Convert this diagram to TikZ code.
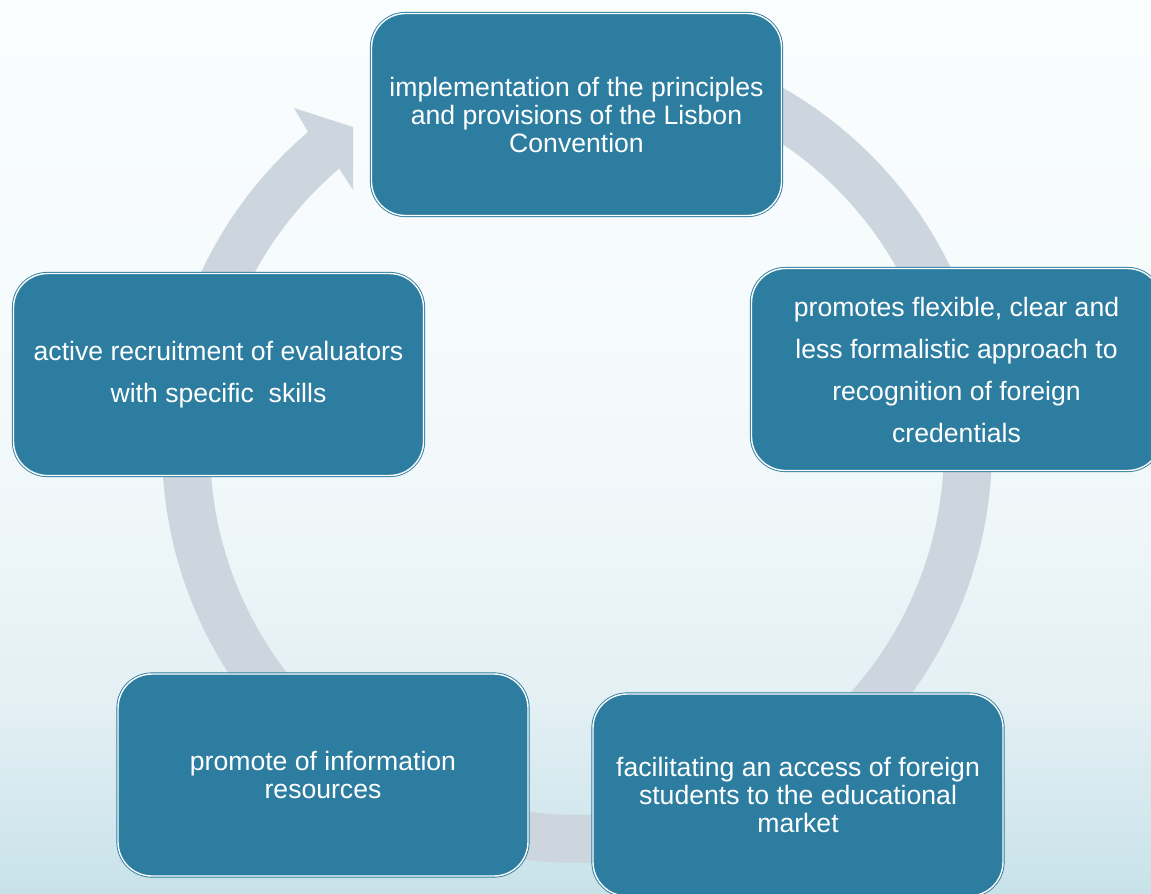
\documentclass[tikz,border=0pt]{standalone}
\usepackage{fontspec}
\setmainfont{Liberation Sans}
\definecolor{boxteal}{RGB}{45,125,160}
\definecolor{ringgrey}{RGB}{205,214,223}
\definecolor{bgtop}{RGB}{250,253,254}
\definecolor{bgmid}{RGB}{243,249,251}
\definecolor{bglow}{RGB}{228,240,244}
\definecolor{bgbot}{RGB}{200,226,234}
\pgfdeclareverticalshading{bgshade}{100bp}{color(0bp)=(bgbot); color(25bp)=(bgbot); color(36bp)=(bglow); color(50bp)=(bgmid); color(75bp)=(bgtop); color(100bp)=(bgtop)}
\tikzset{
  cyclebox/.style={rounded corners=34pt, fill=boxteal, draw=boxteal, line width=0.9pt,
    double=white, double distance=1.4pt, minimum width=410pt, minimum height=202pt,
    inner sep=0pt, align=center, text=white},
  tight/.style={font=\fontsize{26.6pt}{28pt}\selectfont},
  loose/.style={font=\fontsize{26.6pt}{42pt}\selectfont},
}
\begin{document}
\begin{tikzpicture}[x=1pt,y=-1pt]
\useasboundingbox (0,0) rectangle (1151,894);
\shade[shading=bgshade] (0,0) rectangle (1151,894);
% circular arrow
\fill[ringgrey] plot[domain=-80:229.6,samples=150] ({577+415*cos(\x)},{448+415*sin(\x)})
  -- (294,108) -- (353,127) -- (353,190)
  -- plot[domain=229.6:-80,samples=150] ({577+367*cos(\x)},{448+367*sin(\x)}) -- cycle;
% boxes
\node[cyclebox,tight] (top) at (576.5,114.5) {implementation of the principles\\and provisions of the Lisbon\\Convention};
\node[cyclebox,loose] (right) at (956.5,369.5) {promotes flexible, clear and\\less formalistic approach to\\recognition of foreign\\credentials};
\node[cyclebox,tight] (botright) at (798,795) {facilitating an access of foreign\\students to the educational\\market};
\node[cyclebox,tight] (botleft) at (323,775) {promote of information\\resources};
\node[cyclebox,loose] (left) at (218.5,374.5) {active recruitment of evaluators\\with specific~ skills};
\end{tikzpicture}
\end{document}
